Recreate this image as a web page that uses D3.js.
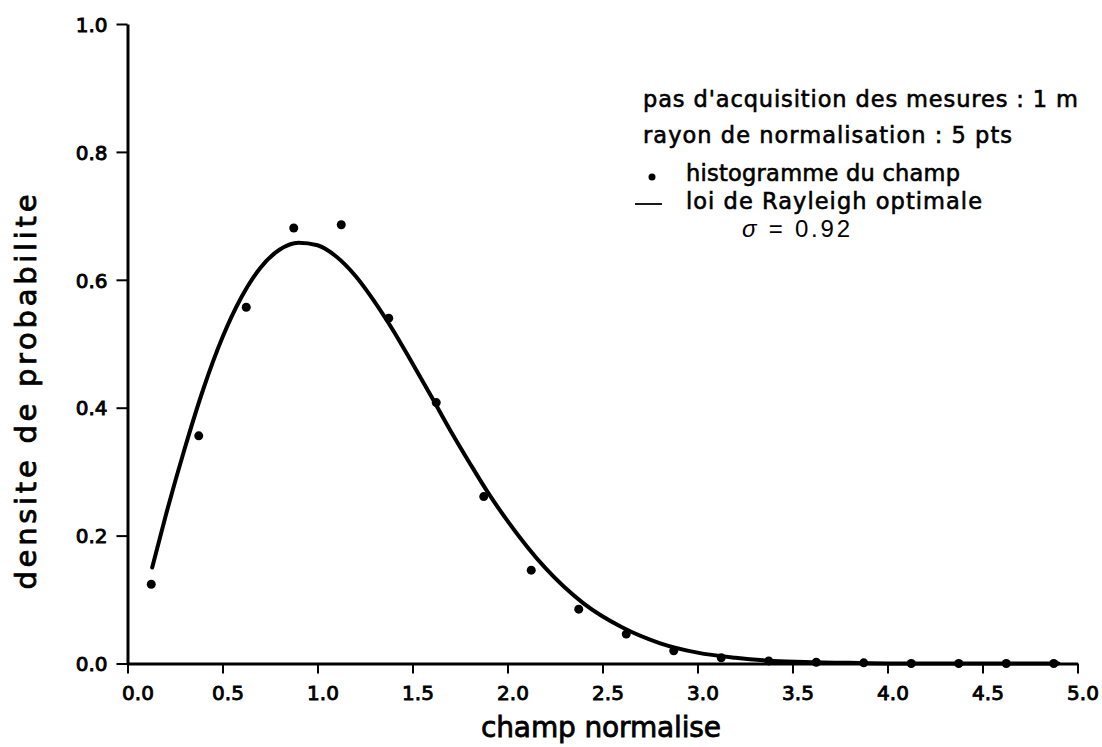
<!DOCTYPE html>
<html>
<head>
<meta charset="utf-8">
<script src="https://cdn.jsdelivr.net/npm/d3@7"></script>
<style>
  html, body { margin: 0; padding: 0; background: #fff; }
  svg { display: block; }
  text { fill: #000; }
</style>
</head>
<body>
<svg id="chart" width="1102" height="747"></svg>
<script>
// Histogram of the normalised field (bin centres and densities)
const binCentres = [0.125, 0.375, 0.625, 0.875, 1.125, 1.375, 1.625, 1.875, 2.125, 2.375,
                    2.625, 2.875, 3.125, 3.375, 3.625, 3.875, 4.125, 4.375, 4.625, 4.875];
const binDensity = [0.124, 0.356, 0.557, 0.681, 0.686, 0.540, 0.408, 0.261, 0.146, 0.085,
                    0.046, 0.020, 0.009, 0.004, 0.002, 0.001, 0.0, 0.0, 0.0, 0.0];

// Fitted Rayleigh law, sampled along the curve
const fitX = [0.13, 0.2, 0.3, 0.4, 0.5, 0.6, 0.7, 0.8, 0.9, 1.0, 1.1, 1.2, 1.3, 1.4, 1.5, 1.6,
              1.7, 1.8, 1.9, 2.0, 2.2, 2.4, 2.6, 2.8, 3.0, 3.2, 3.4, 3.6, 3.8, 4.0, 4.5, 4.9];
const fitY = [0.150, 0.230, 0.335, 0.430, 0.510, 0.573, 0.619, 0.647, 0.658, 0.654, 0.636, 0.606,
              0.566, 0.520, 0.469, 0.417, 0.364, 0.314, 0.266, 0.223, 0.149, 0.094, 0.057, 0.032,
              0.017, 0.009, 0.004, 0.002, 0.001, 0.0, 0.0, 0.0];

// Axis ticks
const xTicks = [0, 0.5, 1, 1.5, 2, 2.5, 3, 3.5, 4, 4.5, 5];
const yTicks = [0, 0.2, 0.4, 0.6, 0.8, 1.0];

// Texts
const xTitle = "champ normalise";
const yTitle = "densite de probabilite";
const infoLines = ["pas d'acquisition des mesures : 1 m", "rayon de normalisation : 5 pts"];
const legendPoints = "histogramme du champ";
const legendCurve = "loi de Rayleigh optimale";

const svg = d3.select("#chart");
const FONT = "'DejaVu Sans', sans-serif";

const x = d3.scaleLinear().domain([0, 5]).range([127.5, 1077.5]);
const y = d3.scaleLinear().domain([0, 1]).range([663.5, 24]);

// x axis
const gx = svg.append("g")
  .attr("transform", `translate(0,${y(0)})`)
  .call(d3.axisBottom(x).tickValues(xTicks).tickSize(10).tickSizeOuter(0)
        .tickFormat(d3.format(".1f")));
gx.select(".domain").attr("stroke", "#000").attr("stroke-width", 3);
gx.selectAll(".tick line").attr("stroke", "#000").attr("stroke-width", 2);
gx.selectAll(".tick text")
  .attr("font-family", FONT).attr("font-size", 20)
  .attr("fill", "#000").attr("stroke", "#000").attr("stroke-width", 0.9)
  .attr("dy", null).attr("y", 36).attr("x", d => d === 0 ? 10 : 5);

// y axis
const gy = svg.append("g")
  .attr("transform", `translate(${x(0)},0)`)
  .call(d3.axisLeft(y).tickValues(yTicks).tickSize(11).tickSizeOuter(0)
        .tickFormat(d3.format(".1f")));
gy.select(".domain").attr("stroke", "#000").attr("stroke-width", 3);
gy.selectAll(".tick line").attr("stroke", "#000").attr("stroke-width", 2);
gy.selectAll(".tick text")
  .attr("font-family", FONT).attr("font-size", 20)
  .attr("fill", "#000").attr("stroke", "#000").attr("stroke-width", 0.9)
  .attr("x", -20).attr("dy", "0.36em");

// fitted curve
const line = d3.line().x((d, i) => x(fitX[i])).y(d => y(d)).curve(d3.curveMonotoneX);
svg.append("path")
  .datum(fitY)
  .attr("d", line)
  .attr("fill", "none")
  .attr("stroke", "#000")
  .attr("stroke-width", 4)
  .attr("stroke-linecap", "round")
  .attr("stroke-linejoin", "round");

// histogram points
svg.append("g").selectAll("circle")
  .data(binDensity)
  .join("circle")
  .attr("cx", (d, i) => x(binCentres[i]))
  .attr("cy", d => y(d))
  .attr("r", 4.5)
  .attr("fill", "#000");

// axis titles
svg.append("text")
  .attr("x", 601).attr("y", 737)
  .attr("text-anchor", "middle")
  .attr("font-family", FONT).attr("font-size", 28)
  .attr("stroke", "#000").attr("stroke-width", 0.8)
  .attr("textLength", 240)
  .text(xTitle);

svg.append("text")
  .attr("transform", "translate(36,392) rotate(-90)")
  .attr("text-anchor", "middle")
  .attr("font-family", FONT).attr("font-size", 29)
  .attr("stroke", "#000").attr("stroke-width", 0.8)
  .attr("textLength", 395)
  .text(yTitle);

// information block and legend
const infoEnds = [1078, 1012];
const infoBase = [107, 143];
infoLines.forEach((t, i) => {
  svg.append("text")
    .attr("x", 643).attr("y", infoBase[i])
    .attr("font-family", FONT).attr("font-size", 22.5)
    .attr("stroke", "#000").attr("stroke-width", 0.6)
    .attr("textLength", infoEnds[i] - 643)
    .text(t);
});

svg.append("circle").attr("cx", 652).attr("cy", 177).attr("r", 3.5).attr("fill", "#000");
svg.append("text")
  .attr("x", 686).attr("y", 181)
  .attr("font-family", FONT).attr("font-size", 22.5)
  .attr("stroke", "#000").attr("stroke-width", 0.6)
  .attr("textLength", 274)
  .text(legendPoints);

svg.append("line")
  .attr("x1", 635).attr("x2", 662).attr("y1", 204).attr("y2", 204)
  .attr("stroke", "#000").attr("stroke-width", 1.8);
svg.append("text")
  .attr("x", 686).attr("y", 209)
  .attr("font-family", FONT).attr("font-size", 22.5)
  .attr("stroke", "#000").attr("stroke-width", 0.6)
  .attr("textLength", 296)
  .text(legendCurve);

const sig = svg.append("text")
  .attr("x", 742).attr("y", 237)
  .attr("font-family", "'Liberation Sans', Arial, sans-serif").attr("font-size", 24)
  .attr("textLength", 108);
sig.append("tspan").attr("font-style", "italic").text("\u03C3");
sig.append("tspan").text(" = 0.92");
</script>
</body>
</html>
